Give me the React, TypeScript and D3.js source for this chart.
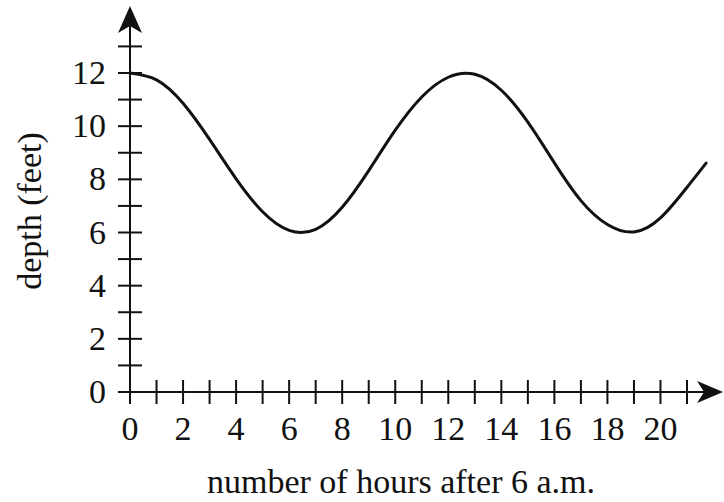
import * as d3 from "d3";

// hours after 6 a.m. and water depth
const hours = [0, 1, 2, 3, 4, 5, 6, 7, 8, 9, 10, 11, 12, 13, 14, 15, 16, 17, 18, 19, 20, 21, 21.72];
const depth = [12, 11.74, 10.86, 9.5, 8.02, 6.78, 6.08, 6.12, 6.95, 8.33, 9.85, 11.1, 11.84, 11.95, 11.35, 10.15, 8.62, 7.2, 6.3, 6.02, 6.55, 7.7, 8.61];

const xTickMarks = [1, 2, 3, 4, 5, 6, 7, 8, 9, 10, 11, 12, 13, 14, 15, 16, 17, 18, 19, 20, 21];
const yTickMarks = [1, 2, 3, 4, 5, 6, 7, 8, 9, 10, 11, 12, 13];
const xTickLabels = [0, 2, 4, 6, 8, 10, 12, 14, 16, 18, 20];
const yTickLabels = [0, 2, 4, 6, 8, 10, 12];

const W = 724;
const H = 502;
const FONT = "'Liberation Serif', 'Times New Roman', serif";
const INK = "#111";

export default function App() {
  const x = d3.scaleLinear().domain([0, 21]).range([130, 687]);
  const y = d3.scaleLinear().domain([0, 12]).range([392, 73]);

  const x0 = x(0);
  const y0 = y(0);
  const tick = 12;

  // axis extents (arrow tips)
  const xTip = x(22.36);
  const yTip = y(14.52);

  const line = d3
    .line<number>()
    .x((_, i) => x(hours[i]))
    .y((d) => y(d))
    .curve(d3.curveNatural);

  const yArrow = `M${x0},${yTip} L${x0 + 12},${yTip + 27} L${x0},${yTip + 20} L${x0 - 12},${yTip + 27} Z`;
  const xArrow = `M${xTip},${y0} L${xTip - 26},${y0 - 11} L${xTip - 19},${y0} L${xTip - 26},${y0 + 11} Z`;

  return (
    <svg
      width={W}
      height={H}
      style={{ position: "absolute", left: 0, top: 0, background: "#fff" }}
      fontFamily={FONT}
    >
      {/* axes */}
      <line x1={x0} x2={x0} y1={y0 + tick} y2={yTip + 20} stroke={INK} strokeWidth={2} />
      <line x1={x0 - tick} x2={xTip - 19} y1={y0} y2={y0} stroke={INK} strokeWidth={2} />
      <path d={yArrow} fill={INK} />
      <path d={xArrow} fill={INK} />

      {yTickMarks.map((v) => (
        <line key={"yt" + v} x1={x0 - tick} x2={x0 + tick} y1={y(v)} y2={y(v)} stroke={INK} strokeWidth={2} />
      ))}
      {xTickMarks.map((v) => (
        <line key={"xt" + v} x1={x(v)} x2={x(v)} y1={y0 - tick} y2={y0 + tick} stroke={INK} strokeWidth={2} />
      ))}

      {yTickLabels.map((v) => (
        <text key={"yl" + v} x={106} y={y(v) + 11} textAnchor="end" fontSize={34} fill={INK}>
          {v}
        </text>
      ))}
      {xTickLabels.map((v) => (
        <text key={"xl" + v} x={x(v)} y={440} textAnchor="middle" fontSize={34} fill={INK}>
          {v}
        </text>
      ))}

      <text x={401} y={493} textAnchor="middle" fontSize={34} fill={INK}>
        number of hours after 6 a.m.
      </text>
      <text
        transform={`translate(41,211) rotate(-90)`}
        textAnchor="middle"
        fontSize={34}
        fill={INK}
      >
        depth (feet)
      </text>

      <path d={line(depth) ?? ""} fill="none" stroke={INK} strokeWidth={3} strokeLinecap="round" />
    </svg>
  );
}
